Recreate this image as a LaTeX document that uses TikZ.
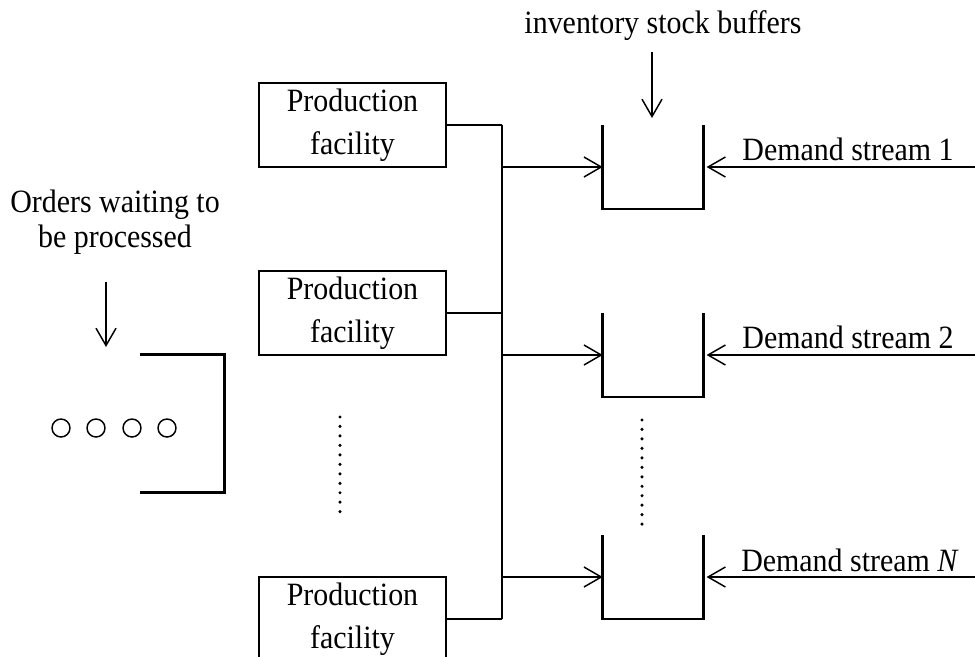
\documentclass[tikz,border=0pt]{standalone}
\usepackage{fontspec}
\setmainfont{Liberation Serif}[FakeStretch=0.92]
\usetikzlibrary{arrows.meta}
\begin{document}
\begin{tikzpicture}[x=0.75pt,y=-0.75pt,
  lbl/.style={font=\fontsize{24.4}{26.25}\selectfont, inner sep=0pt, align=center},
  facility/.style={draw, line width=2pt, minimum width=140.25pt, minimum height=63pt,
    inner sep=0pt, align=center, font=\fontsize{24.4}{32}\selectfont},
  buffer/.style={minimum width=75pt, minimum height=62.25pt, inner sep=0pt},
  wall/.style={line width=1.9pt},
  feed/.style={line width=1.1pt},
  busline/.style={line width=1.5pt},
  arr/.style={line width=1.1pt, -{Straight Barb[length=13pt,width=15pt,line width=1.1pt]}},
  token/.style={circle, draw, line width=1.1pt, minimum size=13.5pt, inner sep=0pt},
  dotline/.style={line width=2.6pt, line cap=round, dash pattern=on 0pt off 7.1pt},
  ]
\clip (0,0) rectangle (975,657);

% production facilities
\node[facility] (p1) at (352.5,125) {Production\\facility};
\node[facility] (p2) at (352.5,313) {Production\\facility};
\node[facility] (p3) at (352.5,619) {Production\\facility};

% inventory buffers (open at the top)
\node[buffer] (b1) at (653,167) {};
\node[buffer] (b2) at (653,355) {};
\node[buffer] (b3) at (653,577) {};
\foreach \b in {b1,b2,b3}
  \draw[wall] (\b.north west) -- (\b.south west) -- (\b.south east) -- (\b.north east);

% order queue (open on the left)
\node[minimum width=63pt, minimum height=102.75pt, inner sep=0pt] (q) at (182,423.5) {};
\draw[wall] (q.north west) -- (q.north east) -- (q.south east) -- (q.south west);
\node[token] (c1) at (61,428) {};
\node[token] (c2) at (96,428) {};
\node[token] (c3) at (132,428) {};
\node[token] (c4) at (167,428) {};

% labels
\node[lbl] (orders) at (115,222) {Orders waiting to\\be processed};
\node[lbl, anchor=base] (inv) at (663,33) {inventory stock buffers};
\node[lbl, anchor=base] (s1) at (848,160) {Demand stream 1};
\node[lbl, anchor=base] (s2) at (848,348) {Demand stream 2};
\node[lbl, anchor=base] (s3) at (850,571) {Demand stream \textit{N}};

% collecting bus between facilities and buffers
\coordinate (bus) at (502,0);
\draw[feed] (p1.east) -- (p1.east -| bus);
\draw[feed] (p2.east) -- (p2.east -| bus);
\draw[feed] (p3.east) -- (p3.east -| bus);
\draw[busline] (p1.east -| bus) -- (p3.east -| bus);
\draw[arr] (b1.west -| bus) -- (b1.west);
\draw[arr] (b2.west -| bus) -- (b2.west);
\draw[arr] (b3.west -| bus) -- (b3.west);

% demand streams entering from the right
\coordinate (edge) at (975,0);
\draw[arr, shorten >=2.5pt] (b1.east -| edge) -- (b1.east);
\draw[arr, shorten >=2.5pt] (b2.east -| edge) -- (b2.east);
\draw[arr, shorten >=2.5pt] (b3.east -| edge) -- (b3.east);

% pointer arrows
\coordinate (invtail) at (652,52);
\coordinate (invhead) at (652,118);
\draw[arr] (invtail) -- (invhead);
\coordinate (ordtail) at (106,282);
\coordinate (ordhead) at (106,347);
\draw[arr] (ordtail) -- (ordhead);

% ellipsis dots
\coordinate (ld1) at (340,417);
\coordinate (ld2) at (340,512);
\coordinate (rd1) at (642,420);
\coordinate (rd2) at (642,525);
\draw[dotline] (ld1) -- (ld2);
\draw[dotline] (rd1) -- (rd2);
\end{tikzpicture}
\end{document}
